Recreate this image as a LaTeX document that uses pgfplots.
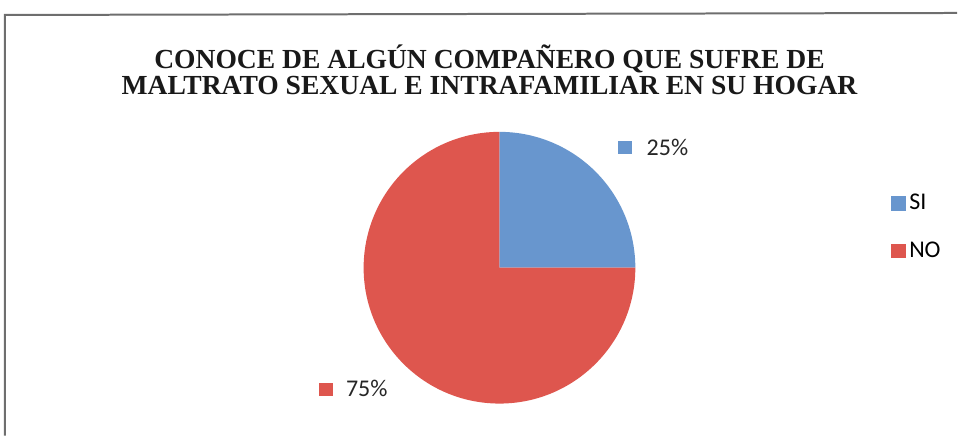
\documentclass[border=0pt]{standalone}
\usepackage{fontspec}
\setmainfont{Carlito}
\newfontfamily\titlefont{Liberation Serif}
\usepackage{pgfplots}
\usepackage{pgfplotstable}
\pgfplotsset{compat=1.18}

\definecolor{siblue}{RGB}{104,150,206}
\definecolor{nored}{RGB}{222,86,78}
\definecolor{framegray}{RGB}{110,110,110}

% percentages of the two answers
\pgfplotstableread{
label value
SI 25
NO 75
}\piedata

\begin{document}
\begin{tikzpicture}
\pgfplotstablegetelem{0}{value}\of\piedata \let\vsi\pgfplotsretval
\pgfplotstablegetelem{1}{value}\of\piedata \let\vno\pgfplotsretval
\pgfmathsetmacro{\asi}{90-3.6*\vsi}
\pgfmathsetmacro{\ano}{\asi-3.6*\vno}
\begin{axis}[
    scale only axis,
    width=479pt, height=218pt,
    xmin=0, xmax=958, ymin=0, ymax=436,
    hide axis, clip=false,
    legend style={draw=none, fill=none, at={(axis cs:886,208.5)}, anchor=west,
        font=\fontsize{12}{14}\selectfont, row sep=11.5pt,
        nodes={inner sep=1.5pt}},
    legend cell align=left,
]
% frame (only top and left edges show in the crop)
\draw[framegray, line width=1pt] (axis cs:5,0) -- (axis cs:5,421) -- (axis cs:958,423);
% slices, clockwise from 12 o'clock
\fill[siblue] (axis cs:500,168) -- ++(90:68pt) arc[start angle=90, end angle=\asi, radius=68pt] -- cycle;
\fill[nored] (axis cs:500,168) -- ++(\asi:68pt) arc[start angle=\asi, end angle=\ano, radius=68pt] -- cycle;
% title
\node[align=center, font=\titlefont\bfseries\fontsize{13.8}{13.2}\selectfont, text=black!90]
    at (axis cs:490,366) {CONOCE DE ALGÚN COMPAÑERO QUE SUFRE DE\\MALTRATO SEXUAL E INTRAFAMILIAR EN SU HOGAR};
% data labels
\fill[siblue] (axis cs:619,282) rectangle (axis cs:633,295);
\node[anchor=west, inner sep=0pt, font=\fontsize{12}{14}\selectfont, text=black!85] at (axis cs:647,288) {25\%};
\fill[nored] (axis cs:319,40) rectangle (axis cs:333,53);
\node[anchor=west, inner sep=0pt, font=\fontsize{12}{14}\selectfont, text=black!85] at (axis cs:346,47) {75\%};
\addlegendimage{legend image code/.code={\fill[siblue] (0pt,-3.3pt) rectangle (7pt,3.3pt);}}
\addlegendentry{SI}
\addlegendimage{legend image code/.code={\fill[nored] (0pt,-3.3pt) rectangle (7pt,3.3pt);}}
\addlegendentry{NO}
\path (axis cs:0,0) (axis cs:958,436);
\end{axis}
\end{tikzpicture}
\end{document}
